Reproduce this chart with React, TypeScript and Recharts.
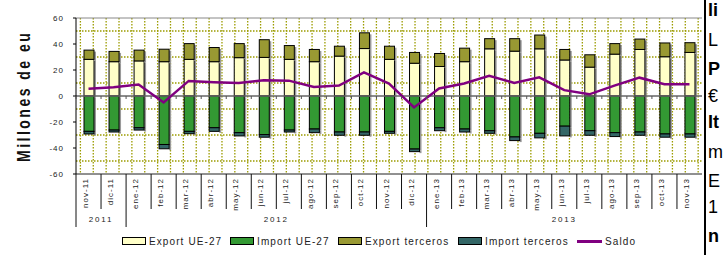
import React from "react";
import {
  ComposedChart,
  Bar,
  Line,
  XAxis,
  YAxis,
  CartesianGrid,
  ReferenceLine,
} from "recharts";

const months = [
  "nov-11", "dic-11", "ene-12", "feb-12", "mar-12", "abr-12", "may-12", "jun-12",
  "jul-12", "ago-12", "sep-12", "oct-12", "nov-12", "dic-12", "ene-13", "feb-13",
  "mar-13", "abr-13", "may-13", "jun-13", "jul-13", "ago-13", "sep-13", "oct-13", "nov-13",
];
const exportUE = [28.2, 26.4, 27.0, 26.4, 28.2, 26.4, 29.5, 29.7, 28.2, 26.4, 30.7, 36.5, 28.2, 25.2, 22.7, 26.4, 36.3, 34.5, 36.3, 27.7, 22.2, 32.2, 35.8, 30.2, 33.5];
const exportTer = [7.1, 7.9, 8.3, 9.6, 12.1, 10.9, 10.8, 13.6, 10.6, 9.4, 7.6, 12.1, 10.1, 8.3, 10.0, 10.4, 7.8, 9.6, 10.6, 8.1, 9.5, 8.1, 8.0, 10.6, 7.5];
const importUE = [-27.2, -26.2, -24.4, -37.3, -27.2, -24.4, -28.2, -29.7, -26.2, -25.4, -27.7, -27.7, -27.2, -40.8, -24.4, -25.4, -26.7, -31.5, -28.7, -23.2, -26.7, -28.2, -27.7, -29.2, -29.2];
const importTer = [-2.0, -1.5, -1.8, -3.3, -1.8, -2.8, -2.5, -2.0, -1.5, -2.8, -2.5, -2.5, -1.5, -2.0, -2.3, -2.3, -2.0, -2.8, -3.5, -7.5, -3.5, -3.0, -2.5, -2.5, -2.5];
const saldo = [5.5, 6.8, 8.8, -5.0, 11.6, 10.6, 10.0, 12.1, 11.8, 7.0, 8.0, 18.1, 9.6, -8.8, 5.8, 9.6, 15.6, 10.1, 14.4, 4.5, 1.3, 8.0, 14.1, 9.1, 9.1];

const yearLabels = ["2011", "2012", "2013"];
const yearStarts = [0, 2, 14];
const yearCounts = [2, 12, 11];

const yTicks = [-60, -40, -20, 0, 20, 40, 60];
const gridValues = [-50, -40, -30, -20, -10, 0, 10, 20, 30, 40, 50];

const sideLines = [
  { t: "li", bold: true, y: 16 },
  { t: "L", bold: false, y: 46 },
  { t: "P", bold: true, y: 75 },
  { t: "€", bold: false, y: 102 },
  { t: "It", bold: true, y: 128 },
  { t: "m", bold: false, y: 158 },
  { t: "E", bold: false, y: 187 },
  { t: "1", bold: false, y: 213 },
  { t: "n", bold: true, y: 242 },
];

const data = months.map((m, i) => ({
  month: m,
  exportUE: exportUE[i],
  importUE: importUE[i],
  exportTer: exportTer[i],
  importTer: importTer[i],
  saldo: saldo[i],
}));

const FONT = "'Liberation Sans', Arial, sans-serif";
const CHART_W = 704;
const CHART_H = 255;
const TOP = 18;
const PLOT_LEFT = 76;
const PLOT_RIGHT = 702;
const X_H = 81;
const PLOT_BOTTOM = CHART_H - X_H;
const ZERO_Y = TOP + (PLOT_BOTTOM - TOP) / 2;
const BAND = (PLOT_RIGHT - PLOT_LEFT) / months.length;

const C_EXP_UE = "#FFFFC8";
const C_IMP_UE = "#339933";
const C_EXP_TER = "#999933";
const C_IMP_TER = "#336666";
const C_SALDO = "#800080";

function BarShape(props: any) {
  const { x, y, width, height, fill } = props;
  if (!height) return null;
  const top = height < 0 ? y + height : y;
  const h = Math.abs(height);
  return (
    <g>
      <rect x={x + width} y={top + 1.5} width={2} height={h} fill="#9a9a9a" />
      <rect x={x} y={top} width={width} height={h} fill={fill} stroke="#000" strokeWidth={1} />
    </g>
  );
}

function ValueTick(props: any) {
  const { y, payload } = props;
  return (
    <text
      x={PLOT_LEFT - 12}
      y={y}
      dy={3}
      textAnchor="end"
      fontSize={8}
      letterSpacing={1}
      fill="#222"
      fontFamily={FONT}
    >
      {payload.value}
    </text>
  );
}

function MonthTick(props: any) {
  const { x, payload, index } = props;
  const left = x - BAND / 2;
  const yi = yearStarts.indexOf(index);
  return (
    <g>
      <line x1={left} y1={ZERO_Y} x2={left} y2={ZERO_Y + 3} stroke="#555" />
      <line
        x1={left}
        y1={PLOT_BOTTOM}
        x2={left}
        y2={yi >= 0 ? PLOT_BOTTOM + 53 : PLOT_BOTTOM + 35}
        stroke="#111"
      />
      <text
        transform={`translate(${x - 0.5},${PLOT_BOTTOM + 4}) rotate(-90)`}
        textAnchor="end"
        fontSize={8}
        letterSpacing={1}
        fill="#222"
        fontFamily={FONT}
      >
        {payload.value}
      </text>
      {yi >= 0 && (
        <text
          x={left + (yearCounts[yi] * BAND) / 2}
          y={PLOT_BOTTOM + 48}
          textAnchor="middle"
          fontSize={8}
          letterSpacing={1.8}
          fill="#222"
          fontFamily={FONT}
        >
          {yearLabels[yi]}
        </text>
      )}
    </g>
  );
}

const legendItems = [
  { label: "Export UE-27", color: C_EXP_UE, x: 122, line: false },
  { label: "Import UE-27", color: C_IMP_UE, x: 230, line: false },
  { label: "Export terceros", color: C_EXP_TER, x: 338, line: false },
  { label: "Import terceros", color: C_IMP_TER, x: 458, line: false },
  { label: "Saldo", color: C_SALDO, x: 577, line: true },
];

export default function App() {
  return (
    <div
      style={{
        position: "absolute",
        left: 0,
        top: 0,
        width: 723,
        height: 255,
        background: "#fff",
        overflow: "hidden",
        fontFamily: FONT,
      }}
    >
      <ComposedChart
        width={CHART_W}
        height={CHART_H}
        data={data}
        stackOffset="sign"
        barSize={10}
        margin={{ top: TOP, right: CHART_W - PLOT_RIGHT, bottom: 0, left: 0 }}
      >
        <CartesianGrid
          stroke="#9c9c00"
          strokeWidth={1.3}
          strokeDasharray="1.5 1.5"
          horizontalValues={gridValues}
          verticalCoordinatesGenerator={({ offset }: any) => {
            const out: number[] = [];
            for (let v = offset.left + 4.4; v < offset.left + offset.width; v += 12.87) out.push(v);
            return out;
          }}
        />
        <XAxis
          dataKey="month"
          interval={0}
          height={X_H}
          tickLine={false}
          axisLine={{ stroke: "#222" }}
          tick={<MonthTick />}
        />
        <YAxis
          width={PLOT_LEFT}
          domain={[-60, 60]}
          ticks={yTicks}
          tickSize={3}
          axisLine={{ stroke: "#000" }}
          tickLine={{ stroke: "#000" }}
          tick={<ValueTick />}
        />
        <ReferenceLine y={60} stroke="#888" />
        <Bar dataKey="exportUE" stackId="a" fill={C_EXP_UE} shape={<BarShape />} isAnimationActive={false} />
        <Bar dataKey="importUE" stackId="a" fill={C_IMP_UE} shape={<BarShape />} isAnimationActive={false} />
        <Bar dataKey="exportTer" stackId="a" fill={C_EXP_TER} shape={<BarShape />} isAnimationActive={false} />
        <Bar dataKey="importTer" stackId="a" fill={C_IMP_TER} shape={<BarShape />} isAnimationActive={false} />
        <ReferenceLine y={0} stroke="#666" strokeWidth={1.5} />
        <Line
          dataKey="saldo"
          type="linear"
          stroke={C_SALDO}
          strokeWidth={2.5}
          dot={false}
          isAnimationActive={false}
        />
      </ComposedChart>

      <svg width={40} height={255} style={{ position: "absolute", left: 0, top: 0 }}>
        <text
          transform="translate(30,162) scale(1.25,1) rotate(-90)"
          fontSize={14}
          fontWeight="bold"
          letterSpacing={2.5}
          fill="#111"
          fontFamily={FONT}
        >
          Millones de eu
        </text>
      </svg>

      {legendItems.map((it) => (
        <div
          key={it.label}
          style={{ position: "absolute", left: it.x, top: 234, height: 14, display: "flex", alignItems: "center" }}
        >
          {it.line ? (
            <div style={{ width: 25, height: 3, background: it.color }} />
          ) : (
            <div style={{ width: 22, height: 6, background: it.color, border: "1px solid #000" }} />
          )}
          <span style={{ marginLeft: 3, fontSize: 10, letterSpacing: 1.1, color: "#222", whiteSpace: "nowrap" }}>
            {it.label}
          </span>
        </div>
      ))}

      <div style={{ position: "absolute", left: 704, top: 0, width: 2, height: 255, background: "#000" }} />
      {sideLines.map((s) => (
        <div
          key={s.t + s.y}
          style={{
            position: "absolute",
            left: 708,
            top: s.y - 16,
            fontSize: 18,
            lineHeight: "20px",
            fontWeight: s.bold ? "bold" : "normal",
            color: "#000",
            whiteSpace: "nowrap",
          }}
        >
          {s.t}
        </div>
      ))}
    </div>
  );
}
